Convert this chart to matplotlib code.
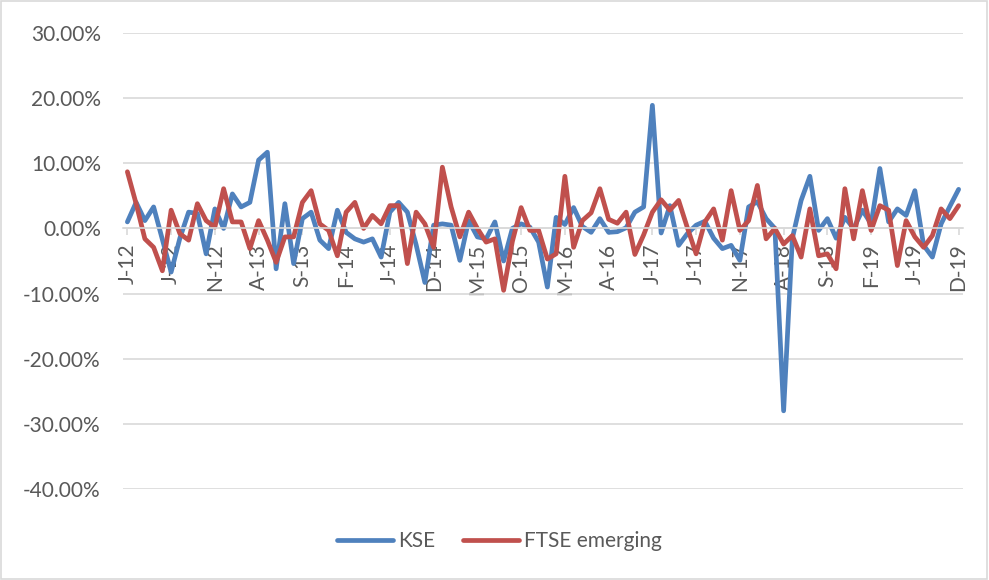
import numpy as np
import matplotlib.pyplot as plt
from matplotlib.ticker import FuncFormatter

# monthly returns in %, Jan 2012 .. Dec 2019
kse = [1.0, 4.0, 1.2, 3.3, -1.7, -6.7, -1.5, 2.5, 2.3, -3.9,
       3.0, 0.0, 5.3, 3.3, 4.0, 10.5, 11.7, -6.2, 3.8, -5.4,
       1.5, 2.5, -1.8, -3.1, 2.8, -0.6, -1.6, -2.1, -1.6, -4.4,
       2.5, 4.0, 2.5, -2.5, -8.3, 0.5, 0.7, 0.5, -4.9, 1.2,
       -1.3, -1.6, 1.0, -5.0, 0.0, 0.7, 0.2, -2.1, -9.0, 1.7,
       0.6, 3.2, 0.3, -0.6, 1.5, -0.6, -0.5, 0.1, 2.5, 3.3,
       18.9, -0.7, 3.5, -2.6, -0.8, 0.5, 1.1, -1.5, -3.1, -2.6,
       -4.9, 3.3, 4.1, 1.5, 0.0, -28.0, -1.5, 4.3, 8.0, -0.3,
       1.5, -1.5, 1.7, 0.0, 2.8, 0.7, 9.2, 1.0, 3.0, 2.0,
       5.8, -2.6, -4.4, 0.7, 3.4, 6.0]
ftse = [8.7, 3.8, -1.6, -2.9, -6.5, 2.8, -0.8, -1.8, 3.8, 1.2,
        0.2, 6.1, 1.0, 1.0, -3.1, 1.2, -1.8, -5.2, -1.3, -1.3,
        4.0, 5.8, 0.7, -0.3, -4.2, 2.5, 4.0, 0.0, 2.0, 0.7,
        3.5, 3.5, -5.4, 2.5, 0.7, -2.9, 9.4, 3.3, -1.3, 2.5,
        0.0, -2.1, -1.6, -9.5, -2.0, 3.2, -0.3, -0.3, -4.7, -3.9,
        8.0, -2.9, 1.2, 2.4, 6.1, 1.4, 0.8, 2.5, -4.0, -1.0,
        2.5, 4.4, 2.8, 4.3, 0.1, -3.9, 1.0, 3.0, -1.8, 5.8,
        -0.3, 1.2, 6.6, -1.6, 0.0, -2.4, -1.1, -4.4, 3.0, -4.2,
        -3.9, -6.2, 6.1, -1.6, 5.8, -0.3, 3.5, 2.8, -5.7, 1.2,
        -1.3, -2.9, -1.1, 3.0, 1.5, 3.5]
tick_labels = ['J-12', 'J-12', 'N-12', 'A-13', 'S-13', 'F-14', 'J-14', 'D-14',
               'M-15', 'O-15', 'M-16', 'A-16', 'J-17', 'J-17', 'N-17', 'A-18',
               'S-18', 'F-19', 'J-19', 'D-19']

plt.rcParams['font.family'] = ['Lato', 'DejaVu Sans']
txt = '#595959'
grid = '#d9d9d9'

fig = plt.figure(figsize=(9.89, 5.80), dpi=100)
fig.patches.append(plt.Rectangle((0.001, 0.001), 0.997, 0.997, transform=fig.transFigure,
                                 fill=False, edgecolor=grid, linewidth=1.2))
ax = fig.add_axes([123/989, 1-489/580, 840/989, 456/580])

x = np.arange(len(kse))
ax.plot(x, kse, color='#4f81bd', lw=3.4, solid_joinstyle='round', solid_capstyle='round', label='KSE')
ax.plot(x, ftse, color='#c0504d', lw=3.4, solid_joinstyle='round', solid_capstyle='round', label='FTSE emerging')

ax.set_xlim(-0.5, len(kse) - 0.5)
ax.set_ylim(-40, 30)
ax.set_yticks(np.arange(-40, 31, 10))
ax.yaxis.set_major_formatter(FuncFormatter(lambda v, p: '%.2f%%' % v))
ax.grid(axis='y', color=grid, lw=1.2)
ax.set_axisbelow(True)

for s in ['top', 'right', 'left']:
    ax.spines[s].set_visible(False)
ax.spines['bottom'].set_position(('data', 0))
ax.spines['bottom'].set_color(grid)
ax.spines['bottom'].set_linewidth(1.2)

ax.set_xticks(x[::5])
ax.set_xticklabels(tick_labels, rotation=90)
ax.tick_params(axis='x', colors=grid, labelcolor=txt, labelsize=15, length=5, width=1.2, pad=6)
ax.tick_params(axis='y', length=0, labelcolor=txt, labelsize=15, pad=16)

fig.legend(loc='center', bbox_to_anchor=(0.505, 1-541/580), ncol=2, frameon=False,
           fontsize=15, labelcolor=txt, handlelength=2.7, handletextpad=0.25, columnspacing=1.3)

fig.savefig('out.png', dpi=100)
